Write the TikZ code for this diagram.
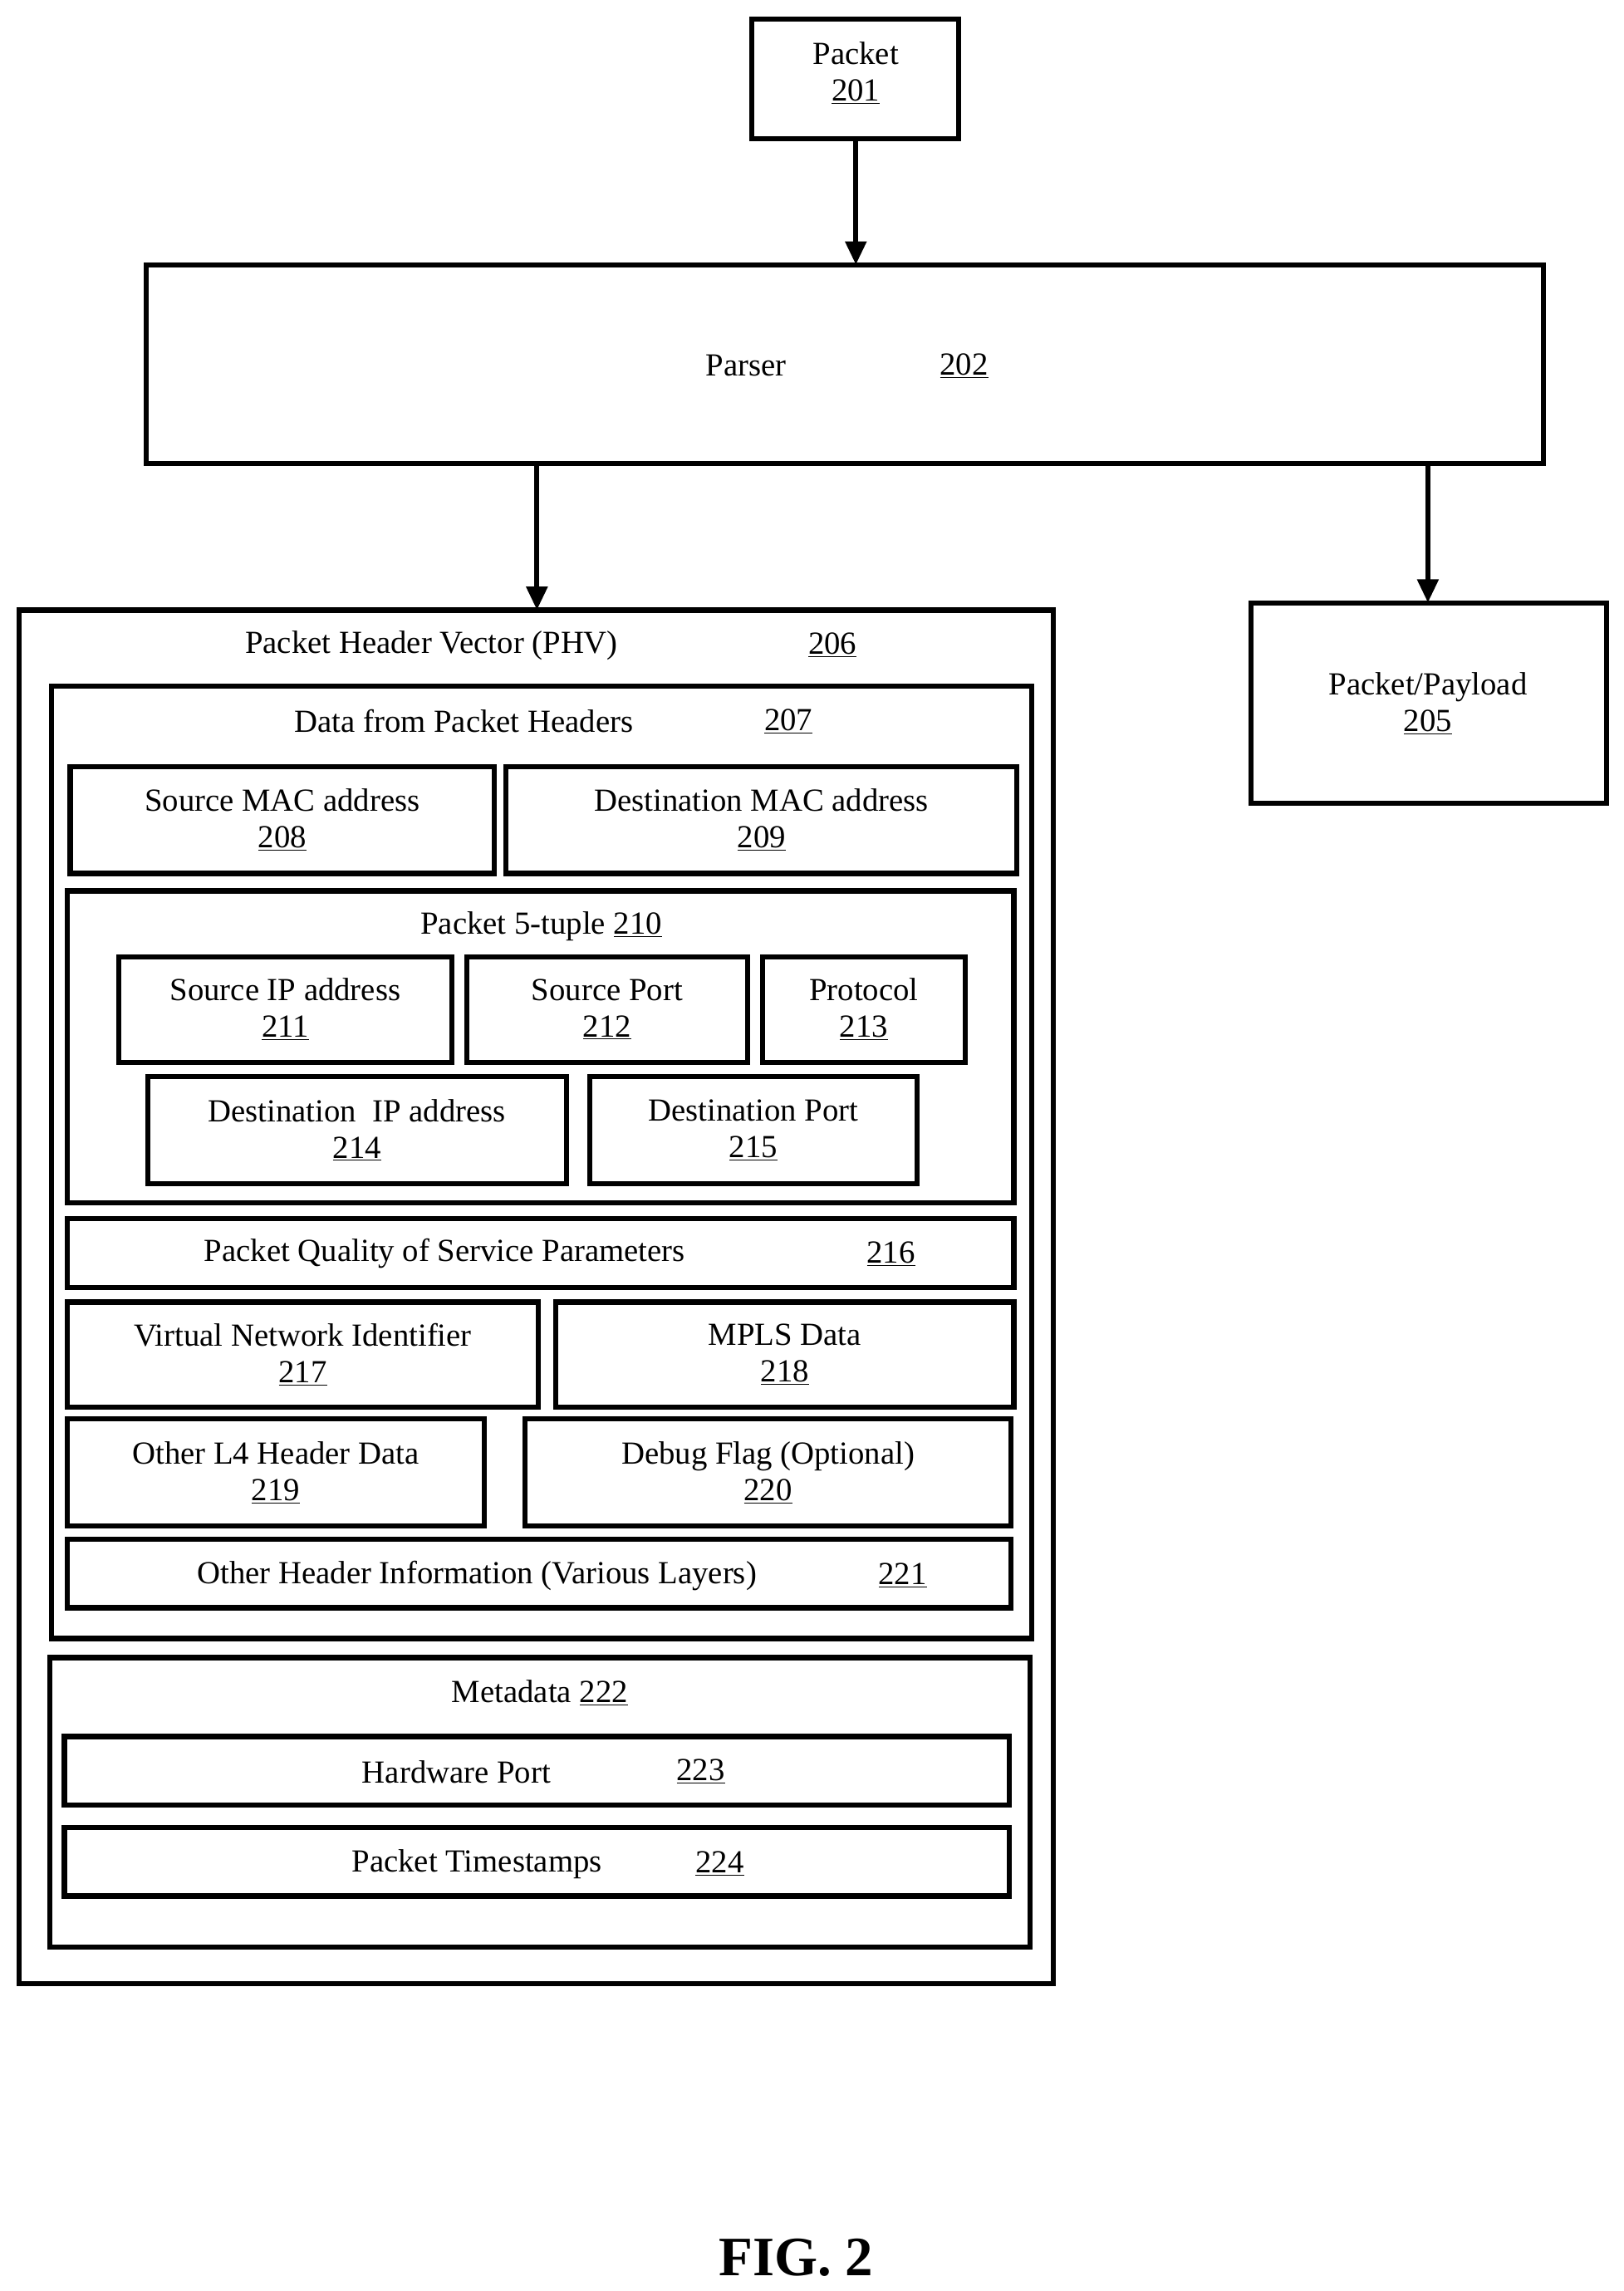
\documentclass[tikz,border=0pt]{standalone}
\usepackage{fontspec}
\setmainfont{Liberation Serif}
\usetikzlibrary{arrows.meta}
\begin{document}
\begin{tikzpicture}[x=1pt,y=-1pt,
  box/.style={draw,line width=3.5pt},
  lbl/.style={inner sep=0pt,align=center,font=\fontsize{22}{26}\selectfont},
  arr/.style={line width=3.5pt,-{Triangle[length=16pt,width=14pt]}}]
\useasboundingbox (0,0) rectangle (1110,1566);
\newcommand{\bx}[6]{% name x1 y1 x2 y2 text
  \draw[box] (#2,#3) rectangle (#4,#5);
  \node[lbl] (#1) at ({(#2+#4)/2},{(#3+#5)/2}) {#6};
  \coordinate (#1n) at ({(#2+#4)/2},#3);}
\draw[box] (514,13) rectangle (655,95);
\node[lbl] (pkt) at (585,50) {Packet\\[-1pt]\underline{201}};
\coordinate (pktS) at (585,95);
\draw[box] (100,181) rectangle (1055,317);
\node[lbl] (par) at (510,250) {Parser};
\node[lbl] (parn) at (659,250) {\underline{202}};
\coordinate (parN) at (585,181);
\coordinate (parL) at (367,317);
\coordinate (parR) at (976,317);
\draw[box] (13,417) rectangle (720,1356);
\coordinate (phvN) at (367,417);
\node[lbl] (phv) at (295,441) {Packet Header Vector (PHV)};
\node[lbl] (phvn) at (569,441) {\underline{206}};
\draw[box] (855,412) rectangle (1098,549);
\node[lbl] (pay) at (976,481) {Packet/Payload\\[-1pt]\underline{205}};
\coordinate (payN) at (976,412);
\draw[arr] (pktS) -- (parN);
\draw[arr] (parL) -- (phvN);
\draw[arr] (parR) -- (payN);
\draw[box] (35,469) rectangle (705,1120);
\node[lbl] (dph) at (317,493) {Data from Packet Headers};
\node[lbl] (dphn) at (539,493) {\underline{207}};
\bx{b208}{48}{524}{338}{597}{Source MAC address\\[-1pt]\underline{208}}
\bx{b209}{346}{524}{695}{597}{Destination MAC address\\[-1pt]\underline{209}}
\draw[box] (46,609) rectangle (693,822);
\node[lbl] (tup) at (370,633) {Packet 5-tuple \underline{210}};
\bx{b211}{81}{654}{309}{726}{Source IP address\\[-1pt]\underline{211}}
\bx{b212}{319}{654}{511}{726}{Source Port\\[-1pt]\underline{212}}
\bx{b213}{521}{654}{660}{726}{Protocol\\[-1pt]\underline{213}}
\bx{b214}{101}{736}{387}{809}{Destination\ \ IP address\\[-1pt]\underline{214}}
\bx{b215}{403}{736}{627}{809}{Destination Port\\[-1pt]\underline{215}}
\draw[box] (46,833) rectangle (693,880);
\node[lbl] (qos) at (304,857) {Packet Quality of Service Parameters};
\node[lbl] (qosn) at (609,857) {\underline{216}};
\bx{b217}{46}{890}{368}{962}{Virtual Network Identifier\\[-1pt]\underline{217}}
\bx{b218}{380}{890}{693}{962}{MPLS Data\\[-1pt]\underline{218}}
\bx{b219}{46}{970}{331}{1043}{Other L4 Header Data\\[-1pt]\underline{219}}
\bx{b220}{359}{970}{691}{1043}{Debug Flag (Optional)\\[-1pt]\underline{220}}
\draw[box] (46,1052) rectangle (691,1099);
\node[lbl] (ohi) at (326,1077) {Other Header Information (Various Layers)};
\node[lbl] (ohin) at (617,1077) {\underline{221}};
\draw[box] (34,1133) rectangle (704,1331);
\node[lbl] (meta) at (369,1157) {Metadata \underline{222}};
\draw[box] (44,1187) rectangle (690,1234);
\node[lbl] (hw) at (312,1211) {Hardware Port};
\node[lbl] (hwn) at (479,1211) {\underline{223}};
\draw[box] (44,1249) rectangle (690,1296);
\node[lbl] (ts) at (326,1274) {Packet Timestamps};
\node[lbl] (tsn) at (492,1274) {\underline{224}};
\node[inner sep=0pt,font=\fontsize{38}{44}\selectfont\bfseries] (fig) at (544,1543) {FIG. 2};
\end{tikzpicture}
\end{document}
